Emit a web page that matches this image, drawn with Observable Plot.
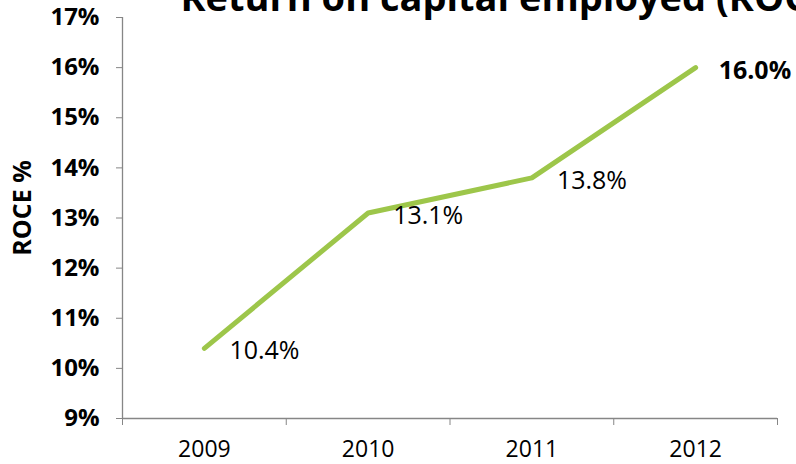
<!DOCTYPE html>
<html>
<head>
<meta charset="utf-8">
<script src="https://cdn.jsdelivr.net/npm/d3@7"></script>
<script src="https://cdn.jsdelivr.net/npm/@observablehq/plot@0.6"></script>
<style>
  body { margin: 0; background: #fff; }
  #chart svg { overflow: visible; }
</style>
</head>
<body>
<div id="chart"></div>
<script>
const years = [2009, 2010, 2011, 2012];
const roce = [10.4, 13.1, 13.8, 16.0];
const yTicks = [9, 10, 11, 12, 13, 14, 15, 16, 17];
const titleText = "Return on capital employed (ROCE)";
const yLabel = "ROCE %";

const data = years.map((year, i) => ({year, value: roce[i]}));
const boundaries = [years[0] - 0.5, ...years.map(y => y + 0.5)];
const last = data.slice(-1);
const rest = data.slice(0, -1);

const axisColor = "#868686";
const lineColor = "#9dc64a";
const font = "'Open Sans', sans-serif";

const chart = Plot.plot({
  width: 796,
  height: 464,
  marginLeft: 122,
  marginRight: 19,
  marginTop: 17,
  marginBottom: 46,
  style: {fontFamily: font, background: "#fff", overflow: "visible"},
  x: {type: "linear", domain: [years[0] - 0.5, years[years.length - 1] + 0.5]},
  y: {domain: [yTicks[0], yTicks[yTicks.length - 1]]},
  marks: [
    // y axis
    Plot.axisY({ticks: yTicks, tickFormat: d => d + "%", tickSize: 6, tickPadding: 17,
      stroke: axisColor, fill: "#000", fontSize: 24, fontWeight: "bold",
      fontFamily: font, label: null}),
    Plot.ruleX([years[0] - 0.5], {stroke: axisColor, strokeWidth: 1.3}),
    // x axis
    Plot.axisX({ticks: boundaries, tickSize: 7, tickFormat: () => "", stroke: axisColor, label: null}),
    Plot.axisX({ticks: years, tickSize: 0, tickPadding: 22, tickFormat: d => String(d),
      fontSize: 23, fill: "#000", label: null}),
    Plot.ruleY([yTicks[0]], {stroke: axisColor, strokeWidth: 1.3}),
    // line
    Plot.line(data, {x: "year", y: "value", stroke: lineColor, strokeWidth: 5}),
    // labels
    Plot.text(rest, {x: "year", y: "value", text: d => d.value.toFixed(1) + "%",
      textAnchor: "start", dx: 25, dy: 3, fontSize: 25, fill: "#000"}),
    Plot.text(last, {x: "year", y: "value", text: d => d.value.toFixed(1) + "%",
      textAnchor: "start", dx: 23, dy: 3, fontSize: 25, fontWeight: "bold", fill: "#000"}),
    // y label
    Plot.text([yLabel], {frameAnchor: "left", textAnchor: "middle", rotate: -90, dx: -100, dy: -10,
      fontSize: 25, fontWeight: "bold", fill: "#000"}),
    // title
    Plot.text([titleText], {frameAnchor: "top-left", textAnchor: "start", lineAnchor: "bottom",
      dx: 58, dy: -7, fontSize: 38, fontWeight: "bold", fill: "#000"})
  ]
});
document.getElementById("chart").appendChild(chart);
</script>
</body>
</html>
